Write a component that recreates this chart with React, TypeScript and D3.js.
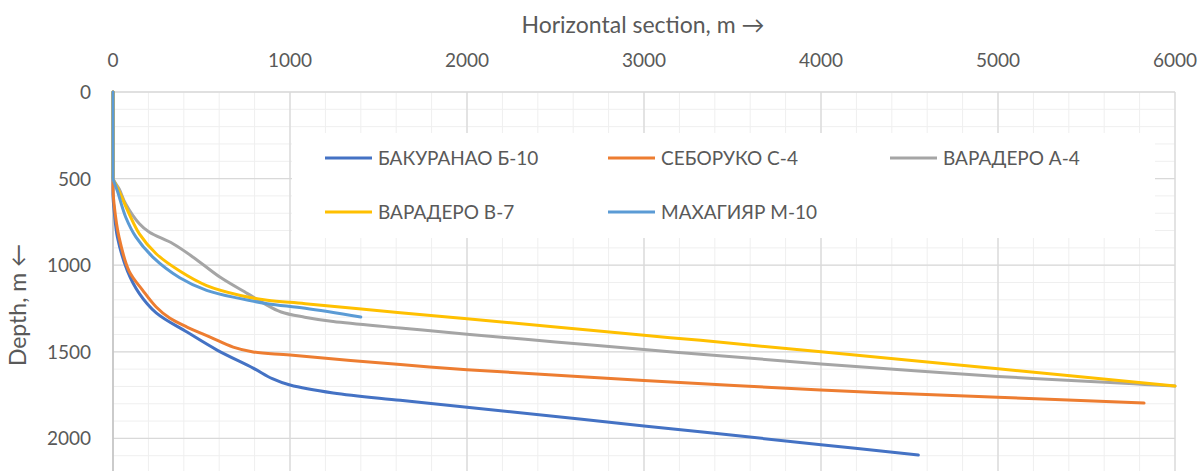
import * as d3 from 'd3';

// depth (m) and horizontal displacement (m) for each well
const bakuranaoDepth = [0, 560, 600, 700, 838, 1034, 1164, 1275, 1386, 1490, 1594, 1655, 1692, 1738, 1780, 1820, 1928, 2036, 2096];
const bakuranaoHoriz = [0, 0, 0, 8, 25, 82, 149, 244, 418, 588, 792, 900, 1000, 1244, 1623, 2000, 3000, 4000, 4550];

const seborukoDepth = [0, 530, 560, 647, 838, 1034, 1145, 1241, 1305, 1357, 1415, 1473, 1501, 1519, 1574, 1603, 1665, 1721, 1762, 1796];
const seborukoHoriz = [0, 0, 0, 6, 34, 91, 168, 244, 320, 418, 549, 679, 792, 1000, 1623, 2000, 3000, 3998, 4999, 5825];

const varaderoA4Depth = [0, 480, 500, 560, 647, 761, 810, 876, 955, 1070, 1164, 1222, 1270, 1300, 1325, 1362, 1398, 1443, 1487, 1514, 1570, 1642, 1685, 1698];
const varaderoA4Horiz = [0, 0, 0, 35, 72, 149, 206, 339, 455, 606, 760, 855, 950, 1083, 1244, 1623, 2000, 2500, 3000, 3320, 4000, 5000, 5768, 6000];

const varaderoB7Depth = [0, 480, 500, 572, 703, 819, 934, 1034, 1118, 1175, 1203, 1222, 1274, 1309, 1354, 1405, 1434, 1500, 1598, 1698];
const varaderoB7Horiz = [0, 0, 0, 34, 91, 149, 244, 377, 529, 720, 872, 1086, 1623, 2000, 2471, 3000, 3320, 4000, 5000, 6000];

const mahagiyarDepth = [0, 480, 500, 572, 723, 838, 953, 1072, 1145, 1193, 1222, 1249, 1299];
const mahagiyarHoriz = [0, 0, 0, 25, 72, 130, 225, 377, 529, 720, 872, 1086, 1400];

const seriesNames = ['БАКУРАНАО Б-10', 'СЕБОРУКО С-4', 'ВАРАДЕРО А-4', 'ВАРАДЕРО В-7', 'МАХАГИЯР М-10'];
const seriesColors = ['#4472C4', '#ED7D31', '#A5A5A5', '#FFC000', '#5B9BD5'];
const seriesDepths = [bakuranaoDepth, seborukoDepth, varaderoA4Depth, varaderoB7Depth, mahagiyarDepth];
const seriesHoriz = [bakuranaoHoriz, seborukoHoriz, varaderoA4Horiz, varaderoB7Horiz, mahagiyarHoriz];

const xTicks = [0, 1000, 2000, 3000, 4000, 5000, 6000];
const yTicks = [0, 500, 1000, 1500, 2000];

const width = 1201;
const height = 471;
const textColor = '#595959';
const font = 'Lato, "Open Sans", sans-serif';

export default function App() {
  const x = d3.scaleLinear().domain([0, 6000]).range([113, 1175]);
  const y = d3.scaleLinear().domain([0, 2500]).range([92, 525]);

  const line = d3.line<[number, number]>()
    .x(d => x(d[0]))
    .y(d => y(d[1]))
    .curve(d3.curveCatmullRom.alpha(0.5));

  const xMinor = d3.range(0, 6001, 200);
  const yMinor = d3.range(0, 2501, 100);

  // legend box (covers the grid)
  const leg = { x0: 292, x1: 1155, y0: 133, y1: 238 };
  const legendPos = [
    [325, 158], [608, 158], [890, 158],
    [325, 212], [608, 212],
  ];

  return (
    <svg
      width={width}
      height={height}
      style={{ position: 'fixed', left: 0, top: 0, background: '#fff' }}
      fontFamily={font}
    >
      <defs>
        <clipPath id="plot-clip">
          <rect x={x(0) - 2} y={y(0) - 2} width={x(6000) - x(0) + 4} height={y(2500) - y(0) + 4} />
        </clipPath>
      </defs>

      {/* minor grid */}
      <g stroke="#efefef" strokeWidth={1}>
        {xMinor.map(v => (
          <line key={'xm' + v} x1={x(v)} x2={x(v)} y1={y(0)} y2={y(2500)} />
        ))}
        {yMinor.map(v => (
          <line key={'ym' + v} x1={x(0)} x2={x(6000)} y1={y(v)} y2={y(v)} />
        ))}
      </g>
      {/* major grid */}
      <g stroke="#d9d9d9" strokeWidth={1.3}>
        {xTicks.map(v => (
          <line key={'xM' + v} x1={x(v)} x2={x(v)} y1={y(0)} y2={y(2500)} />
        ))}
        {yTicks.map(v => (
          <line key={'yM' + v} x1={x(0)} x2={x(6000)} y1={y(v)} y2={y(v)} />
        ))}
      </g>
      <line x1={x(0)} x2={x(0)} y1={y(0)} y2={y(2500)} stroke="#bfbfbf" strokeWidth={1.3} />

      {/* legend background */}
      <rect x={leg.x0} y={leg.y0} width={leg.x1 - leg.x0} height={leg.y1 - leg.y0} fill="#fff" />

      {/* series */}
      <g fill="none" strokeWidth={3} strokeLinecap="round" strokeLinejoin="round" clipPath="url(#plot-clip)">
        {seriesNames.map((name, i) => {
          const pts = seriesDepths[i].map((d, j) => [seriesHoriz[i][j], d] as [number, number]);
          return <path key={name} d={line(pts) || ''} stroke={seriesColors[i]} />;
        })}
      </g>

      {/* x tick labels */}
      <g fill={textColor} fontSize={19} textAnchor="middle">
        {xTicks.map(v => (
          <text key={'xt' + v} x={x(v)} y={67}>{v}</text>
        ))}
      </g>
      {/* y tick labels */}
      <g fill={textColor} fontSize={19} textAnchor="end">
        {yTicks.map(v => (
          <text key={'yt' + v} x={91} y={y(v) + 7}>{v}</text>
        ))}
      </g>

      {/* axis titles */}
      <text x={643} y={33} fill={textColor} fontSize={23} textAnchor="middle">
        Horizontal section, m →
      </text>
      <text
        transform={`translate(26,305) rotate(-90)`}
        fill={textColor}
        fontSize={23}
        textAnchor="middle"
      >
        Depth, m ←
      </text>

      {/* legend */}
      {seriesNames.map((name, i) => {
        const [lx, ly] = legendPos[i];
        return (
          <g key={'lg' + name}>
            <line x1={lx} x2={lx + 47} y1={ly} y2={ly} stroke={seriesColors[i]} strokeWidth={3} />
            <text x={lx + 53} y={ly + 7} fill={textColor} fontSize={19}>{name}</text>
          </g>
        );
      })}
    </svg>
  );
}
